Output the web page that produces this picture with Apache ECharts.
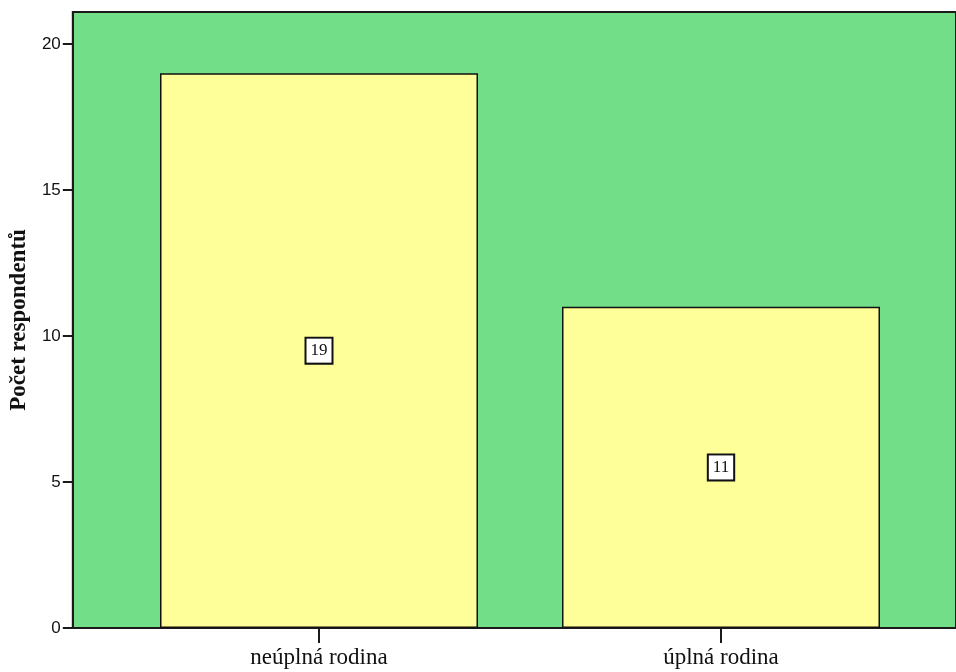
<!DOCTYPE html>
<html>
<head>
<meta charset="utf-8">
<script src="https://cdn.jsdelivr.net/npm/echarts@6/dist/echarts.min.js"></script>
<style>html,body{margin:0;padding:0;background:#fff}#c{width:956px;height:672px}</style>
</head>
<body>
<div id="c"></div>
<script>
var categories = ['neúplná rodina', 'úplná rodina'];
var counts = [19, 11];
var yTicks = [0, 5, 10, 15, 20];
var yTitle = 'Počet respondentů';

var chart = echarts.init(document.getElementById('c'), null, {renderer: 'canvas'});
chart.setOption({
  animation: false,
  grid: [
    {left: 72, right: 0, top: 12, bottom: 44, show: true, backgroundColor: '#72de88', borderColor: '#1a1a1a', borderWidth: 2},
    {left: 118, right: 34, top: 12, bottom: 44, show: false}
  ],
  xAxis: [
    {gridIndex: 0, type: 'value', min: 0, max: 1, axisLine: {show: true, lineStyle: {color: '#1a1a1a', width: 2}}, axisTick: {show: false}, axisLabel: {show: false}, splitLine: {show: false}},
    {gridIndex: 1, type: 'category', data: categories,
      axisLine: {show: false},
      axisTick: {show: true, alignWithLabel: true, length: 15, lineStyle: {color: '#1a1a1a', width: 2}},
      axisLabel: {margin: 18, fontFamily: 'Liberation Serif', fontSize: 23, color: '#111'},
      splitLine: {show: false}}
  ],
  yAxis: [
    {gridIndex: 0, type: 'value', min: 0, max: 21.1, interval: 5,
      name: yTitle, nameLocation: 'middle', nameGap: 40,
      nameTextStyle: {fontFamily: 'Liberation Serif', fontWeight: 'bold', fontSize: 23, color: '#111'},
      axisLine: {show: true, lineStyle: {color: '#1a1a1a', width: 2}},
      axisTick: {show: true, length: 10, customValues: yTicks, lineStyle: {color: '#1a1a1a', width: 2}},
      axisLabel: {customValues: yTicks, margin: 12, fontFamily: 'Liberation Sans', fontSize: 17, color: '#111'},
      splitLine: {show: false}},
    {gridIndex: 1, type: 'value', min: 0, max: 21.1, interval: 5, show: false, splitLine: {show: false}}
  ],
  series: [{
    type: 'bar', xAxisIndex: 1, yAxisIndex: 1, data: counts, barWidth: 318,
    itemStyle: {color: '#ffff99', borderColor: '#111', borderWidth: 1.5},
    label: {show: true, position: 'inside', fontFamily: 'Liberation Serif', fontSize: 17, color: '#111',
      backgroundColor: '#fff', borderColor: '#111', borderWidth: 2, padding: [4, 4, 3, 4]}
  }]
});
</script>
</body>
</html>
